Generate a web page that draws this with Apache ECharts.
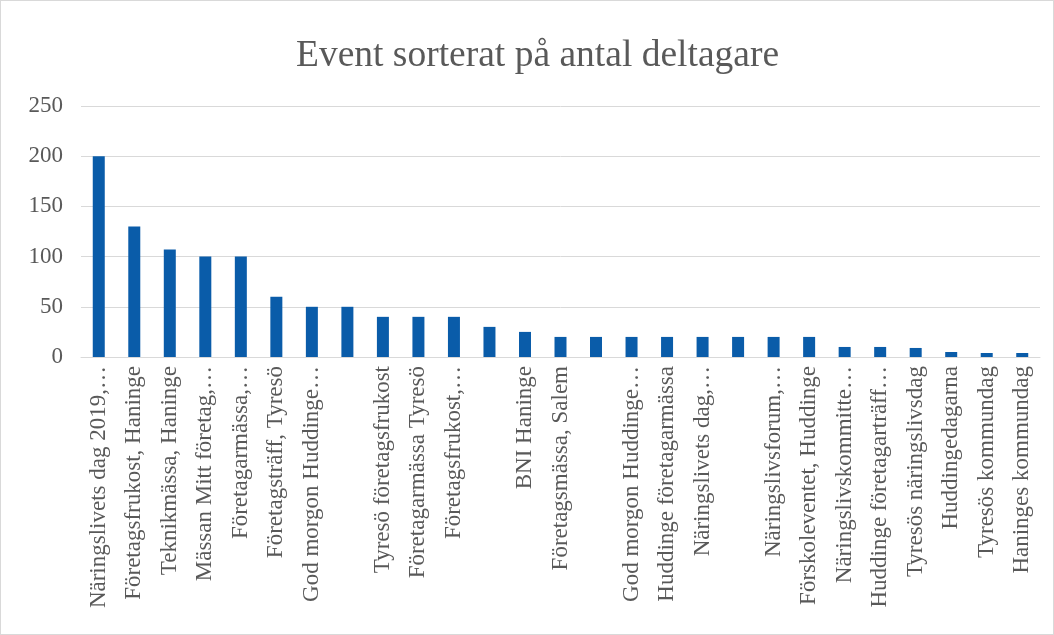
<!DOCTYPE html>
<html>
<head>
<meta charset="utf-8">
<script src="https://cdn.jsdelivr.net/npm/echarts@6/dist/echarts.min.js"></script>
<style>
  html, body { margin: 0; padding: 0; background: #fff; }
  #chart { width: 1052px; height: 633px; border: 1px solid #d9d9d9; }
</style>
</head>
<body>
<div id="chart"></div>
<script>
// event names as shown on the axis (Excel truncated the long ones)
const events = [
  'Näringslivets dag 2019,…', 'Företagsfrukost, Haninge', 'Teknikmässa, Haninge',
  'Mässan Mitt företag,…', 'Företagarmässa,…', 'Företagsträff, Tyresö',
  'God morgon Huddinge…', '', 'Tyresö företagsfrukost', 'Företagarmässa Tyresö',
  'Företagsfrukost,…', '', 'BNI Haninge', 'Företagsmässa, Salem', '',
  'God morgon Huddinge…', 'Huddinge företagarmässa', 'Näringslivets dag,…', '',
  'Näringslivsforum,…', 'Förskoleventet, Huddinge', 'Näringslivskommitte…',
  'Huddinge företagarträff…', 'Tyresös näringslivsdag', 'Huddingedagarna',
  'Tyresös kommundag', 'Haninges kommundag'
];
const participants = [200, 130, 107, 100, 100, 60, 50, 50, 40, 40, 40, 30, 25, 20,
  20, 20, 20, 20, 20, 20, 20, 10, 10, 9, 5, 4, 4];
const yTicks = [0, 50, 100, 150, 200, 250];

let myChart = echarts.init(document.getElementById('chart'));
myChart.setOption({
  animation: false,
  title: {
    text: 'Event sorterat på antal deltagare',
    left: 290,
    top: 31,
    textStyle: {
      fontFamily: 'Liberation Serif',
      fontSize: 37.5,
      fontWeight: 'normal',
      color: '#595959'
    }
  },
  grid: {
    top: 105,
    bottom: 277,
    left: 80,
    right: 13
  },
  xAxis: {
    type: 'category',
    data: events,
    axisTick: { show: false },
    axisLine: { lineStyle: { color: '#d9d9d9' } },
    axisLabel: {
      interval: 0,
      rotate: 90,
      margin: 9,
      color: '#595959',
      fontFamily: 'Liberation Serif',
      fontSize: 23
    }
  },
  yAxis: {
    type: 'value',
    min: yTicks[0],
    max: yTicks[yTicks.length - 1],
    interval: 50,
    axisLine: { show: false },
    axisTick: { show: false },
    splitLine: { lineStyle: { color: '#d9d9d9' } },
    axisLabel: {
      margin: 18,
      color: '#595959',
      fontFamily: 'Liberation Serif',
      fontSize: 23
    }
  },
  series: [{
    type: 'bar',
    data: participants,
    barWidth: 12,
    itemStyle: { color: '#0a5ca9' }
  }]
});
</script>
</body>
</html>
